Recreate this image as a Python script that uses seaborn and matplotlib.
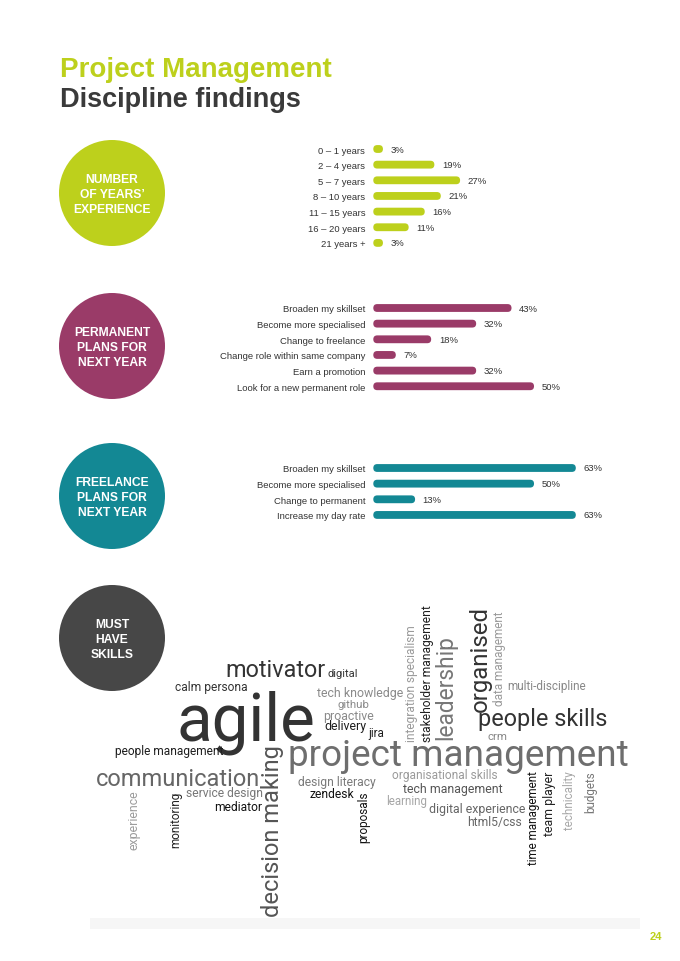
import matplotlib
matplotlib.use("Agg")
import matplotlib.pyplot as plt
from matplotlib.patches import Circle, FancyBboxPatch, Rectangle
import seaborn as sns
import pandas as pd

# ---- data ----
years_labels = ["0 – 1 years", "2 – 4 years", "5 – 7 years", "8 – 10 years",
                "11 – 15 years", "16 – 20 years", "21 years +"]
years_values = [3, 19, 27, 21, 16, 11, 3]

perm_labels = ["Broaden my skillset", "Become more specialised", "Change to freelance",
               "Change role within same company", "Earn a promotion",
               "Look for a new permanent role"]
perm_values = [43, 32, 18, 7, 32, 50]

free_labels = ["Broaden my skillset", "Become more specialised",
               "Change to permanent", "Increase my day rate"]
free_values = [63, 50, 13, 63]

panel_titles = ["NUMBER\nOF YEARS’\nEXPERIENCE", "PERMANENT\nPLANS FOR\nNEXT YEAR",
                "FREELANCE\nPLANS FOR\nNEXT YEAR", "MUST\nHAVE\nSKILLS"]

skill_words = ["motivator", "digital", "calm persona", "tech knowledge", "github",
               "proactive", "delivery", "jira", "agile", "people management",
               "project management", "communication", "multi-discipline",
               "people skills", "crm", "design literacy", "zendesk",
               "organisational skills", "tech management", "learning",
               "digital experience", "html5/css", "service design", "mediator",
               "decision making", "experience", "monitoring", "proposals",
               "time management", "team player", "technicality", "budgets",
               "integration specialism", "stakeholder management", "leadership",
               "organised", "data management"]

# word cloud layout (pixels on the page): start, end, cross position, grey, vertical
cloud_layout = [
    (225, 325, 677, "#333333", False), (327, 357, 677, "#333333", False),
    (175, 248, 691, "#333333", False), (317, 403, 697, "#8a8a8a", False),
    (338, 370, 708, "#8a8a8a", False), (323, 374, 720, "#8a8a8a", False),
    (324, 366, 730, "#1e1e1e", False), (368, 384, 737, "#1e1e1e", False),
    (177, 315, 741, "#333333", False), (115, 224, 755, "#1e1e1e", False),
    (288, 629, 766, "#6e6e6e", False), (96, 260, 786, "#666666", False),
    (507, 586, 690, "#888888", False), (478, 608, 726, "#333333", False),
    (488, 508, 740, "#888888", False), (298, 376, 786, "#7a7a7a", False),
    (310, 355, 798, "#111111", False), (392, 497, 779, "#9a9a9a", False),
    (403, 503, 793, "#555555", False), (386, 427, 805, "#a5a5a5", False),
    (429, 526, 813, "#666666", False), (467, 522, 826, "#666666", False),
    (186, 264, 797, "#777777", False), (214, 262, 811, "#111111", False),
    (917, 745, 273, "#555555", True), (850, 790, 134, "#9c9c9c", True),
    (848, 791, 176, "#222222", True), (843, 791, 364, "#111111", True),
    (865, 770, 533, "#111111", True), (836, 771, 550, "#222222", True),
    (830, 771, 570, "#a8a8a8", True), (813, 771, 591, "#777777", True),
    (742, 625, 412, "#9a9a9a", True), (742, 605, 427, "#1e1e1e", True),
    (740, 635, 446, "#777777", True), (712, 606, 480, "#333333", True),
    (706, 610, 500, "#9a9a9a", True),
]

GREEN = "#bdd01c"
PLUM = "#9a3b68"
TEAL = "#138894"
DARK = "#474747"
TEXT = "#333333"

W, H = 680, 962
ROW = 15.65
BAR_X0, BAR_W, XMAX = 373.3, 225, 70

sns.set_theme(style="white")
plt.rcParams["font.family"] = ["Liberation Sans", "DejaVu Sans"]

fig = plt.figure(figsize=(W / 100, H / 100), dpi=100)
page = fig.add_axes([0, 0, 1, 1])
page.set_xlim(0, W)
page.set_ylim(H, 0)
page.axis("off")

# titles
page.text(60, 77, "Project Management", fontsize=20, weight="bold", color=GREEN, va="baseline")
page.text(60, 107, "Discipline findings", fontsize=19.5, weight="bold", color="#3a3a3a", va="baseline")
page.text(656, 937, "24", fontsize=8, weight="bold", color=GREEN, ha="center", va="center")
page.add_patch(Rectangle((90, 919), 550, 11, color="#f6f6f6", lw=0, zorder=0))

# section circles
circle_y = [194, 347, 497, 639]
for cy, title, col in zip(circle_y, panel_titles, [GREEN, PLUM, TEAL, DARK]):
    page.add_patch(Circle((112, cy), 53, color=col, lw=0))
    page.text(112, cy + 1, title, color="white", fontsize=8.7, weight="bold",
              ha="center", va="center", multialignment="center", linespacing=1.32)


def bar_panel(first_row_y, labels, values, color):
    n = len(labels)
    top = first_row_y - ROW / 2
    ax = fig.add_axes([BAR_X0 / W, 1 - (top + n * ROW) / H, BAR_W / W, n * ROW / H])
    df = pd.DataFrame({"label": labels, "value": values})
    sns.barplot(data=df, x="value", y="label", orient="h", color=color,
                saturation=1, width=0.5, ax=ax)
    ax.set_xlim(0, XMAX)
    ax.set_ylim(n - 0.5, -0.5)
    ax.patch.set_alpha(0)
    # swap square bars for pill shapes
    x_per_px = XMAX / BAR_W
    y_per_px = 1 / ROW
    for p in list(ax.patches):
        x, y, w, h = p.get_x(), p.get_y(), p.get_width(), p.get_height()
        p.remove()
        r = (h / y_per_px) / 2 * x_per_px
        ax.add_patch(FancyBboxPatch((x, y), w, h, boxstyle=f"round,pad=0,rounding_size={r}",
                                    mutation_aspect=y_per_px / x_per_px,
                                    fc=color, ec="none"))
    for i, v in enumerate(values):
        ax.annotate(f"{v}%", xy=(v, i), xytext=(5.5, 0), textcoords="offset points",
                    va="center", ha="left", fontsize=6.8, color=TEXT)
    ax.set_xticks([])
    ax.set_xlabel("")
    ax.set_ylabel("")
    ax.tick_params(axis="y", length=0, pad=5.8, labelsize=6.8, labelcolor=TEXT)
    sns.despine(ax=ax, left=True, bottom=True)


bar_panel(150, years_labels, years_values, GREEN)
bar_panel(309, perm_labels, perm_values, PLUM)
bar_panel(469, free_labels, free_values, TEAL)

# word cloud, each word scaled to its footprint
renderer = fig.canvas.get_renderer()
for word, (a0, a1, cross, col, vertical) in zip(skill_words, cloud_layout):
    if vertical:
        t = page.text(cross, a0, word, rotation=90, ha="center", va="bottom",
                      color=col, fontsize=10, family=["Roboto", "DejaVu Sans"])
        size = t.get_window_extent(renderer).height
    else:
        t = page.text(a0, cross, word, ha="left", va="baseline",
                      color=col, fontsize=10, family=["Roboto", "DejaVu Sans"])
        size = t.get_window_extent(renderer).width
    t.set_fontsize(10 * abs(a1 - a0) / size)

fig.savefig("out.png", dpi=100, facecolor="white")
